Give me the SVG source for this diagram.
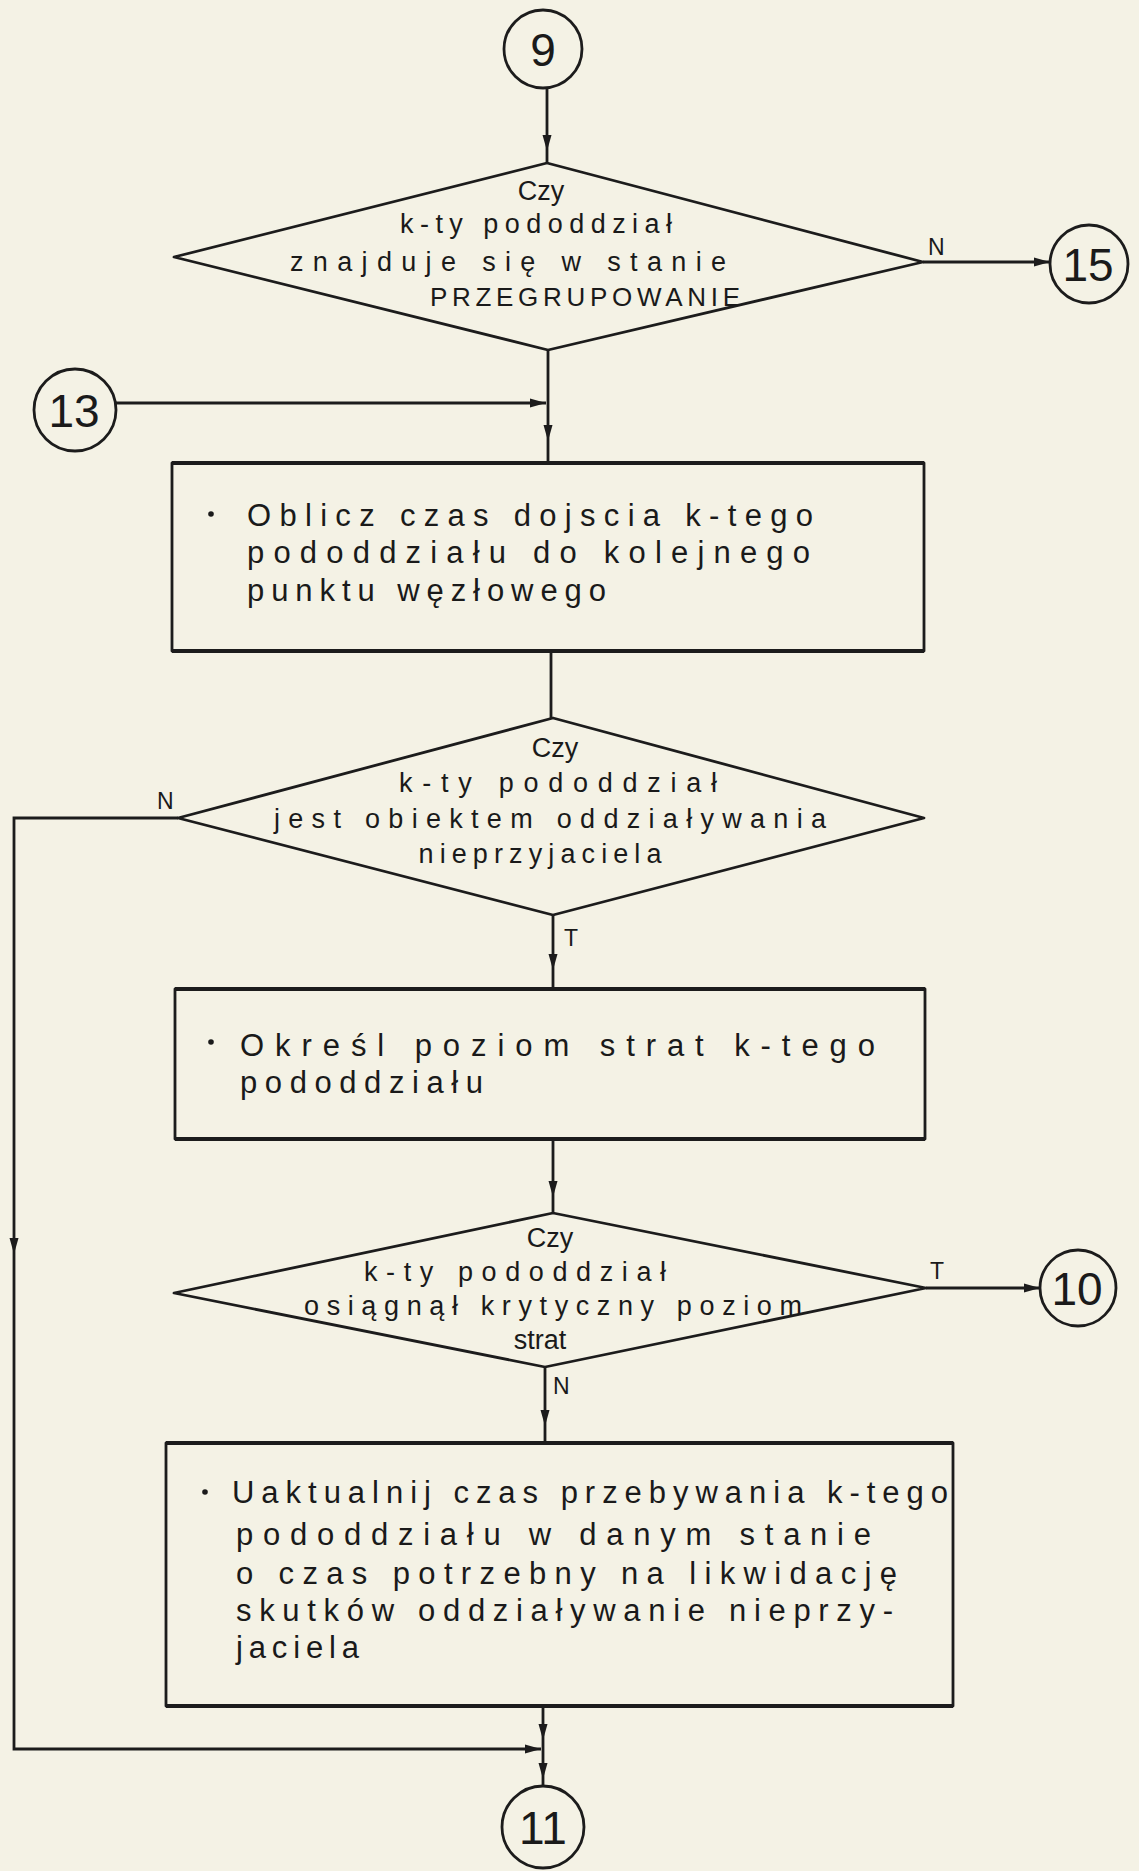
<svg xmlns="http://www.w3.org/2000/svg" width="1139" height="1871" viewBox="0 0 1139 1871">
  <defs>
    <marker id="arr" markerUnits="userSpaceOnUse" markerWidth="18" markerHeight="12" refX="16" refY="6" orient="auto" overflow="visible">
      <path d="M0,1.5 L16,6 L0,10.5 Z" fill="#1c1c1c"/>
    </marker>
    <style>
      .shape { fill: none; stroke: #1c1c1c; stroke-width: 2.8; stroke-linejoin: round; }
      .edge { fill: none; stroke: #1c1c1c; stroke-width: 4.2; }
      .conn { fill: none; stroke: #1c1c1c; stroke-width: 2.8; }
      .t { font-family: "Liberation Sans", "DejaVu Sans", sans-serif; fill: #1a1a1a; }
      .box { font-size: 31px; }
      .dia { font-size: 27px; text-anchor: middle; }
      .caps { font-size: 26px; }
      .num { font-size: 46px; text-anchor: middle; }
      .lab { font-size: 23px; }
    </style>
  </defs>

  <rect width="1139" height="1871" fill="#f4f2e5"/>

  <!-- connectors -->
  <g id="connectors">
    <!-- 9 to first decision -->
    <path class="conn" d="M547 88 V151" marker-end="url(#arr)"/>
    <path class="conn" d="M547 151 V163"/>
    <!-- N branch to 15 -->
    <path class="conn" d="M923 262 H1050" marker-end="url(#arr)"/>
    <text class="t lab" x="928" y="255">N</text>
    <!-- first decision down to box 1 -->
    <path class="conn" d="M548 350 V441" marker-end="url(#arr)"/>
    <path class="conn" d="M548 441 V463"/>
    <!-- 13 joins the main line -->
    <path class="conn" d="M116 403 H546" marker-end="url(#arr)"/>
    <!-- box 1 to second decision -->
    <path class="conn" d="M551 651 V718"/>
    <!-- N branch of second decision: loop down the left side -->
    <path class="conn" d="M178 818 H14 V1254" marker-end="url(#arr)"/>
    <path class="conn" d="M14 1254 V1749 H541" marker-end="url(#arr)"/>
    <text class="t lab" x="157" y="809">N</text>
    <!-- T branch of second decision -->
    <path class="conn" d="M553 915 V970" marker-end="url(#arr)"/>
    <path class="conn" d="M553 970 V989"/>
    <text class="t lab" x="564" y="946">T</text>
    <!-- box 2 to third decision -->
    <path class="conn" d="M553 1139 V1197" marker-end="url(#arr)"/>
    <path class="conn" d="M553 1197 V1213"/>
    <!-- T branch to 10 -->
    <path class="conn" d="M926 1288 H1040" marker-end="url(#arr)"/>
    <text class="t lab" x="930" y="1279">T</text>
    <!-- N branch to box 3 -->
    <path class="conn" d="M545 1367 V1426" marker-end="url(#arr)"/>
    <path class="conn" d="M545 1426 V1443"/>
    <text class="t lab" x="553" y="1394">N</text>
    <!-- box 3 to 11 -->
    <path class="conn" d="M543 1706 V1740" marker-end="url(#arr)"/>
    <path class="conn" d="M543 1740 V1779" marker-end="url(#arr)"/>
    <path class="conn" d="M543 1779 V1786"/>
  </g>

  <!-- connector circles -->
  <g id="c9">
    <circle class="shape" cx="543" cy="49" r="39"/>
    <text class="t num" x="543" y="66">9</text>
  </g>
  <g id="c15">
    <circle class="shape" cx="1089" cy="264" r="39"/>
    <text class="t num" x="1088" y="281">15</text>
  </g>
  <g id="c13">
    <circle class="shape" cx="75" cy="410" r="41"/>
    <text class="t num" x="74" y="427">13</text>
  </g>
  <g id="c10">
    <circle class="shape" cx="1078" cy="1288" r="38"/>
    <text class="t num" x="1077" y="1305">10</text>
  </g>
  <g id="c11">
    <circle class="shape" cx="543" cy="1827" r="41"/>
    <text class="t num" x="543" y="1844">11</text>
  </g>

  <!-- decision: regrouping state -->
  <g id="d1">
    <polygon class="shape" points="547,163 923,262 548,350 174,257"/>
    <text class="t dia" x="541" y="200">Czy</text>
    <text class="t dia" x="536" y="233" textLength="272" lengthAdjust="spacing">k-ty pododdział</text>
    <text class="t dia" x="508" y="271" textLength="436" lengthAdjust="spacing">znajduje się w stanie</text>
    <text class="t dia caps" x="585" y="306" textLength="310" lengthAdjust="spacing">PRZEGRUPOWANIE</text>
  </g>

  <!-- process: time to next node -->
  <g id="b1">
    <rect class="shape" x="172" y="463" width="752" height="188"/>
    <path class="edge" d="M172 463 H924 M172 651 H924"/>
    <circle cx="211" cy="514" r="2.8" fill="#1a1a1a"/>
    <text class="t box" x="247" y="526" textLength="566" lengthAdjust="spacing">Oblicz czas dojscia k-tego</text>
    <text class="t box" x="247" y="563" textLength="563" lengthAdjust="spacing">pododdziału do kolejnego</text>
    <text class="t box" x="247" y="601" textLength="359" lengthAdjust="spacing">punktu węzłowego</text>
  </g>

  <!-- decision: under enemy action -->
  <g id="d2">
    <polygon class="shape" points="553,718 924,818 553,915 178,818"/>
    <text class="t dia" x="555" y="757">Czy</text>
    <text class="t dia" x="558" y="792" textLength="318" lengthAdjust="spacing">k-ty pododdział</text>
    <text class="t dia" x="550" y="828" textLength="552" lengthAdjust="spacing">jest obiektem oddziaływania</text>
    <text class="t dia" x="540" y="863" textLength="243" lengthAdjust="spacing">nieprzyjaciela</text>
  </g>

  <!-- process: loss level -->
  <g id="b2">
    <rect class="shape" x="175" y="989" width="750" height="150"/>
    <path class="edge" d="M175 989 H925 M175 1139 H925"/>
    <circle cx="211" cy="1042" r="2.8" fill="#1a1a1a"/>
    <text class="t box" x="240" y="1056" textLength="635" lengthAdjust="spacing">Określ poziom strat k-tego</text>
    <text class="t box" x="240" y="1093" textLength="243" lengthAdjust="spacing">pododdziału</text>
  </g>

  <!-- decision: critical loss level -->
  <g id="d3">
    <polygon class="shape" points="553,1213 926,1288 545,1367 174,1293"/>
    <text class="t dia" x="550" y="1247">Czy</text>
    <text class="t dia" x="515" y="1281" textLength="302" lengthAdjust="spacing">k-ty pododdział</text>
    <text class="t dia" x="553" y="1315" textLength="498" lengthAdjust="spacing">osiągnął krytyczny poziom</text>
    <text class="t dia" x="540" y="1349">strat</text>
  </g>

  <!-- process: update time in state -->
  <g id="b3">
    <rect class="shape" x="166" y="1443" width="787" height="263"/>
    <path class="edge" d="M166 1443 H953 M166 1706 H953"/>
    <circle cx="205" cy="1492" r="2.8" fill="#1a1a1a"/>
    <text class="t box" x="232" y="1503" textLength="716" lengthAdjust="spacing">Uaktualnij czas przebywania k-tego</text>
    <text class="t box" x="236" y="1545" textLength="635" lengthAdjust="spacing">pododdziału w danym stanie</text>
    <text class="t box" x="236" y="1584" textLength="661" lengthAdjust="spacing">o czas potrzebny na likwidację</text>
    <text class="t box" x="236" y="1621" textLength="657" lengthAdjust="spacing">skutków oddziaływanie nieprzy-</text>
    <text class="t box" x="236" y="1658" textLength="123" lengthAdjust="spacing">jaciela</text>
  </g>
</svg>
